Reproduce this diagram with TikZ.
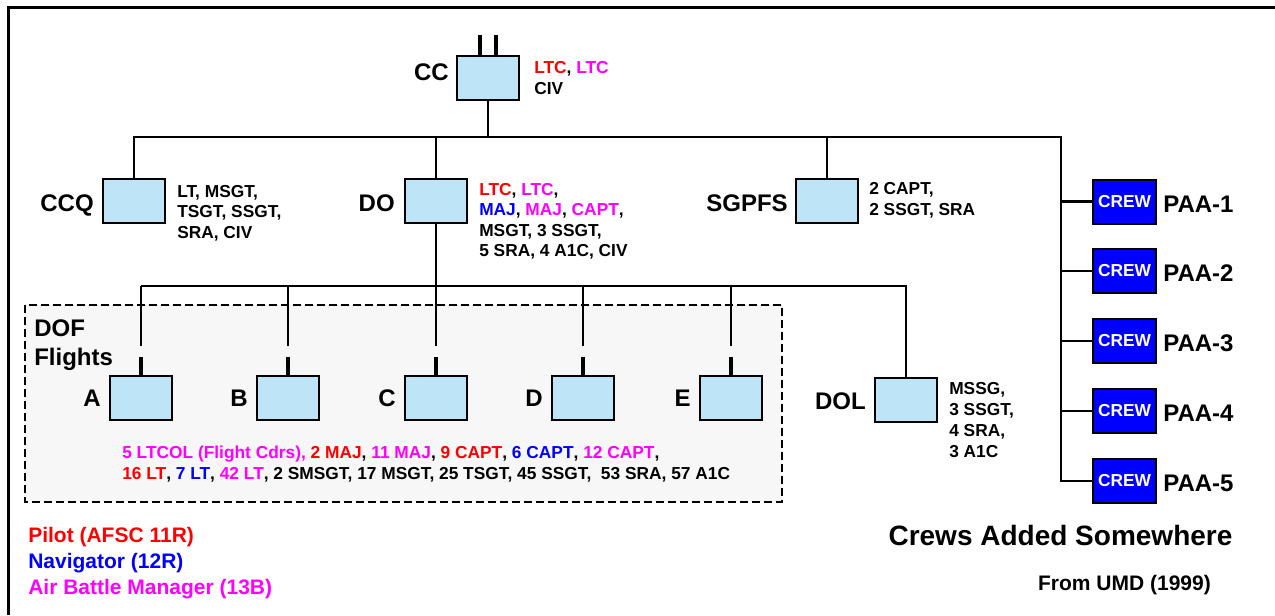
\documentclass[tikz,border=0pt]{standalone}
\usepackage{fontspec}
\setmainfont{Liberation Sans}
\usetikzlibrary{calc}
\definecolor{boxblue}{RGB}{190,228,248}
\definecolor{pilot}{RGB}{255,0,0}
\definecolor{nav}{RGB}{0,0,255}
\definecolor{abm}{RGB}{255,0,255}
\definecolor{panel}{RGB}{247,247,247}
\begin{document}
\begin{tikzpicture}[x=0.75pt,y=-0.75pt,
  unit/.style={draw=black,line width=1.5pt,fill=boxblue,minimum width=46.5pt,minimum height=33pt,inner sep=0pt},
  crew/.style={draw=black,line width=1.5pt,fill=nav,minimum width=47pt,minimum height=33pt,inner sep=0pt,text=white,font=\fontsize{13}{15}\selectfont\bfseries},
  biglbl/.style={font=\fontsize{18}{22}\selectfont\bfseries,inner sep=0pt},
  info/.style={font=\fontsize{13}{15.4}\selectfont\bfseries,inner sep=0pt,align=left,anchor=base west},
  link/.style={line width=1.6pt},
  stub/.style={line width=2.8pt},
  panelbox/.style={draw=black,fill=panel,line width=1.9pt,dash pattern=on 6pt off 3pt},
]
\useasboundingbox (0,0) rectangle (1275,615);

% outer frame
\coordinate (fbl) at (8.5,615);
\coordinate (ftl) at (8.5,7.5);
\coordinate (ftr) at (1275,7.5);
\draw[line width=1.6pt] (fbl) -- (ftl) -- (ftr);

% DOF flights panel
\draw[panelbox] (25,305) rectangle (782,502);

% units
\node[unit] (CC) at (488,78) {};
\node[unit] (CCQ) at (134,201) {};
\node[unit] (DO) at (436,201) {};
\node[unit] (SG) at (827,201) {};
\node[unit] (A) at (141,398) {};
\node[unit] (B) at (288,398) {};
\node[unit] (C) at (436,398) {};
\node[unit] (D) at (583,398) {};
\node[unit] (E) at (731,398) {};
\node[unit] (DOL) at (906,399.5) {};

% crews
\foreach \i/\y in {1/201.5,2/271,3/341,4/411,5/481}{
  \node[crew] (crew\i) at (1124.5,\y) {CREW};
  \node[biglbl,anchor=base west] (paa\i) at (1163,\y+10.6) {PAA-\i};
}

% labels
\node[biglbl,anchor=base east] (lCC) at (449,80.6) {CC};
\node[biglbl,anchor=base east] (lCCQ) at (94,211.6) {CCQ};
\node[biglbl,anchor=base east] (lDO) at (395,211.6) {DO};
\node[biglbl,anchor=base east] (lSG) at (788,211.6) {SGPFS};
\node[biglbl,anchor=base east] (lDOL) at (866,409.6) {DOL};
\node[biglbl,anchor=base east] (lA) at (101,406.6) {A};
\node[biglbl,anchor=base east] (lB) at (248,406.6) {B};
\node[biglbl,anchor=base east] (lC) at (396,406.6) {C};
\node[biglbl,anchor=base east] (lD) at (543,406.6) {D};
\node[biglbl,anchor=base east] (lE) at (691,406.6) {E};
\node[biglbl,anchor=base west,align=left,font=\fontsize{18}{21.75}\selectfont\bfseries] (lDOF) at (34,365.6) {DOF\\Flights};

% info texts (anchor = baseline of last line)
\node[info,font=\fontsize{13}{15.75}\selectfont\bfseries] (tCC) at (534,94.2) {\textcolor{pilot}{LTC}, \textcolor{abm}{LTC}\\CIV};
\node[info] (tCCQ) at (177,238.1) {LT, MSGT,\\TSGT, SSGT,\\SRA, CIV};
\node[info] (tDO) at (479,256.6) {\textcolor{pilot}{LTC}, \textcolor{abm}{LTC},\\\textcolor{nav}{MAJ}, \textcolor{abm}{MAJ}, \textcolor{abm}{CAPT},\\MSGT, 3 SSGT,\\5 SRA, 4 A1C, CIV};
\node[info] (tSG) at (869,215.5) {2 CAPT,\\2 SSGT, SRA};
\node[info,font=\fontsize{13}{15.75}\selectfont\bfseries] (tDOL) at (949,457) {MSSG,\\3 SSGT,\\4 SRA,\\3 A1C};
\node[info,font=\fontsize{13}{15.75}\selectfont\bfseries] (tF) at (122,479) {\textcolor{abm}{5 LTCOL (Flight Cdrs),} \textcolor{pilot}{2 MAJ}, \textcolor{abm}{11 MAJ}, \textcolor{pilot}{9 CAPT}, \textcolor{nav}{6 CAPT}, \textcolor{abm}{12 CAPT},\\\textcolor{pilot}{16 LT}, \textcolor{nav}{7 LT}, \textcolor{abm}{42 LT}, 2 SMSGT, 17 MSGT, 25 TSGT, 45 SSGT,\ \ 53 SRA, 57 A1C};

% legend
\node[info,font=\fontsize{15.75}{19.5}\selectfont\bfseries] (legend) at (28,594.5) {\textcolor{pilot}{Pilot (AFSC 11R)}\\\textcolor{nav}{Navigator (12R)}\\\textcolor{abm}{Air Battle Manager (13B)}};
\node[font=\fontsize{21}{25}\selectfont\bfseries,inner sep=0pt,anchor=base] (crews) at (1060.5,545) {Crews Added Somewhere};
\node[font=\fontsize{15.75}{19}\selectfont\bfseries,inner sep=0pt,anchor=base] (src) at (1124.5,590.5) {From UMD (1999)};

% connectors
\coordinate (busR) at (1061,137);
\coordinate (dbus) at (906,286);
\draw[stub] ([xshift=-6pt]CC.north) -- ++(0,-20);
\draw[stub] ([xshift=6pt]CC.north) -- ++(0,-20);
\draw[line width=2.2pt] (CC.south) -- (CC.south |- busR);
\draw[link] (CCQ.north) -- (CCQ.north |- busR) -- (busR) -- (busR |- crew5.west) -- (crew5.west);
\foreach \i in {1,2,3,4}{\draw[link] (busR |- crew\i.west) -- (crew\i.west);}
\draw[link] (SG.north) -- (SG.north |- busR);
\draw[link] (DO.north) -- (DO.north |- busR);
\draw[line width=2.2pt] (DO.south) -- ($(C.north)+(0,-29)$);
\draw[link] (A.north |- dbus) -- (dbus) -- (DOL.north);
\foreach \n in {A,B,D,E}{\draw[link] (\n.north |- dbus) -- ($(\n.north)+(0,-29)$);}
\foreach \n in {A,B,C,D,E}{\draw[stub] ($(\n.north)+(0,-18)$) -- (\n.north);}
\end{tikzpicture}
\end{document}
